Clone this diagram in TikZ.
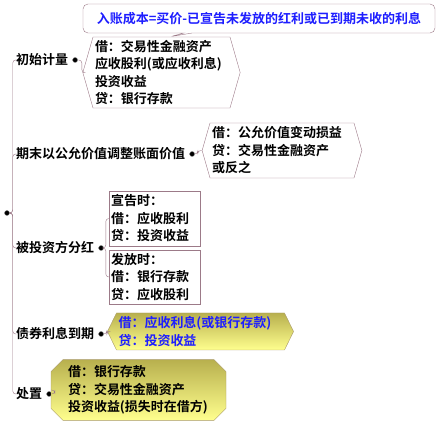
\documentclass[tikz,border=0pt]{standalone}
\usepackage{fontspec}
\setmainfont{Noto Sans CJK SC}[BoldFont={Noto Sans CJK SC Bold}]
\usetikzlibrary{positioning,shapes.misc,shapes.symbols,shapes.callouts}
\definecolor{mauve}{HTML}{9C7A88}
\definecolor{inkblue}{HTML}{1E1EFF}
\definecolor{yeltop}{HTML}{B8B04E}
\definecolor{yelbot}{HTML}{FFFF8E}
\definecolor{yeledge}{HTML}{A89868}
\tikzset{
  tree/.style={draw=mauve,thin,rounded corners=3pt},
  dot/.style={circle,fill=black,draw=gray,inner sep=0pt,minimum size=5pt},
  lbl/.style={font=\bfseries\fontsize{13}{17.5}\selectfont,inner sep=1pt,anchor=west},
  txt/.style={font=\bfseries\fontsize{13}{17.5}\selectfont,align=left,
    inner xsep=2pt,inner ysep=0pt,draw=mauve},
  hexbox/.style={txt,signal,signal to=west and east,signal pointer angle=148},
  yelbox/.style={top color=yeltop,bottom color=yelbot,draw=yeledge}
}

\begin{document}
\begin{tikzpicture}[x=1pt,y=-1pt]
      \useasboundingbox (0,0) rectangle (440,422);
      % branches
      \node[dot] (root) at (7,213) {};
      \node[lbl] (init) at (15,60) {初始计量};
      \node[lbl] (adjust) at (15,154) {期末以公允价值调整账面价值};
      \node[lbl] (divid) at (15,248) {被投资方分红};
      \node[lbl] (bond) at (15,334) {债券利息到期};
      \node[lbl] (sell) at (15,394) {处置};
      \foreach \n in {init,adjust,divid,bond,sell}{
        \node[dot,right=3pt of \n] (\n-dot) {};
        \draw[tree] (root.east) -- ++(3,0) |- (\n.west);
      }
      % entries
      \node[hexbox,text width=133pt,minimum height=71pt] (initbox) at (161.5,72.5)
        {借：交易性金融资产\\应收股利(或应收利息)\\投资收益\\贷：银行存款};
      \node[txt,rectangle callout,rounded corners=5pt,text=inkblue,align=center,
        minimum width=352pt,minimum height=29pt,callout pointer width=8pt,
        callout absolute pointer={([xshift=8pt]initbox.north)}] (cost) at (259,18.5)
        {入账成本=买价-已宣告未发放的红利或已到期未收的利息};
      \node[hexbox,text width=140pt,minimum height=55pt] (adjustbox) at (282,150.5)
        {借：公允价值变动损益\\贷：交易性金融资产\\或反之};
      \node[txt,text width=87pt,minimum height=55pt] (declare) at (154.5,218.5)
        {宣告时：\\借：应收股利\\贷：投资收益};
      \node[txt,text width=87pt,minimum height=54pt] (pay) at (154.5,277)
        {发放时：\\借：银行存款\\贷：应收股利};
      \node[hexbox,yelbox,text=inkblue,signal pointer angle=128,text width=164pt,
        minimum height=37pt] (bondbox) at (200.5,331.5)
        {借：应收利息(或银行存款)\\贷：投资收益};
      \node[txt,yelbox,chamfered rectangle,chamfered rectangle xsep=6pt,
        chamfered rectangle ysep=6pt,inner xsep=11pt,text width=141pt,
        minimum height=54pt] (sellbox) at (138.5,390)
        {借：银行存款\\贷：交易性金融资产\\投资收益(损失时在借方)};
      % links
      \draw[tree] (init-dot.east) -- ++(4,0) |- (initbox.west);
      \draw[tree] (adjust-dot.east) -- ++(3,0) |- (adjustbox.west);
      \foreach \b in {declare,pay} \draw[tree] (divid-dot.east) -- ++(2,0) |- (\b.west);
      \draw[tree] (bond-dot.east) -- ++(3,0) |- (bondbox.west);
      \draw[tree] (sell-dot.east) -- ++(3,0) |- (sellbox.west);
\end{tikzpicture}
\end{document}
